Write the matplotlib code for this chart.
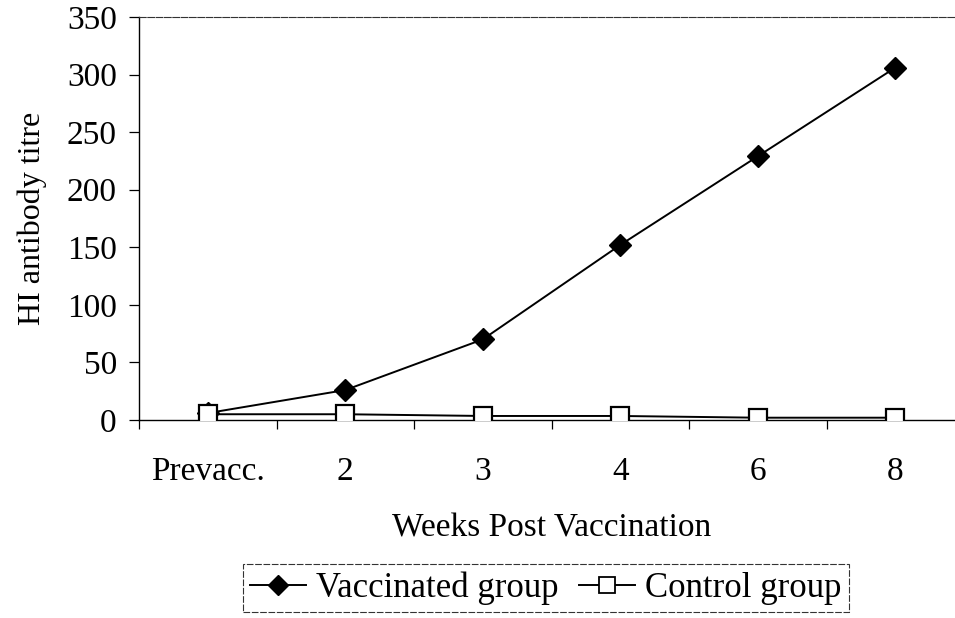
import matplotlib.pyplot as plt
import numpy as np
from matplotlib.lines import Line2D

weeks = ['Prevacc.', '2', '3', '4', '6', '8']
vaccinated = [6, 26, 70, 152, 229, 306]
control = [5, 5, 3.5, 3.5, 2, 2]
y_ticks = [0, 50, 100, 150, 200, 250, 300, 350]

plt.rcParams['font.family'] = ['Liberation Serif', 'DejaVu Serif']

fig = plt.figure(figsize=(9.55, 6.18), dpi=100)
W, H = 955, 618
# plot area runs past the right edge of the picture, as in the scan
ax = fig.add_axes([139 / W, 1 - 420 / H, 825 / W, 403 / H])

x = np.arange(len(weeks))
ax.plot(x, vaccinated, color='black', lw=1.4, marker='D', markersize=11,
        markerfacecolor='black', markeredgecolor='black', zorder=3)
ax.plot(x, control, color='black', lw=1.4, marker='s', markersize=13,
        markerfacecolor='white', markeredgecolor='black', markeredgewidth=1.6, zorder=4)

ax.set_xlim(-0.5, len(weeks) - 0.5)
ax.set_ylim(0, 350)

ax.set_yticks(y_ticks)
ax.tick_params(axis='y', direction='out', length=7, width=0.9, labelsize=24, pad=9)

# tick marks between categories, labels at the centres
ax.set_xticks(np.arange(len(weeks) + 1) - 0.5)
ax.set_xticklabels([])
ax.set_xticks(x, minor=True)
ax.set_xticklabels(weeks, minor=True)
ax.tick_params(axis='x', which='major', direction='out', length=6.5, width=0.9)
ax.tick_params(axis='x', which='minor', length=0, labelsize=24, pad=26)

ax.spines['right'].set_visible(False)
ax.spines['top'].set_linewidth(0.8)
ax.spines['top'].set_color('#333333')
ax.spines['top'].set_linestyle((0, (6, 1.5)))
for s in ['left', 'bottom']:
    ax.spines[s].set_linewidth(1.0)

ax.set_xlabel('Weeks Post Vaccination', fontsize=24, labelpad=19)
ax.set_ylabel('HI antibody titre', fontsize=23, labelpad=14)

handles = [
    Line2D([], [], color='black', lw=1.4, marker='D', markersize=10, markerfacecolor='black'),
    Line2D([], [], color='black', lw=1.4, marker='s', markersize=11,
           markerfacecolor='white', markeredgewidth=1.3),
]
leg = fig.legend(handles, ['Vaccinated group', 'Control group'], ncol=2,
                 loc='center', bbox_to_anchor=(546 / W, 1 - 588 / H),
                 fontsize=25, frameon=True, fancybox=False, handlelength=1.6,
                 handletextpad=0.3, columnspacing=0.6, borderpad=0.2,
                 borderaxespad=0)
leg.get_frame().set_edgecolor('black')
leg.get_frame().set_linewidth(0.8)
leg.get_frame().set_linestyle((0, (6, 1.5)))

fig.savefig('out.png', dpi=100)
